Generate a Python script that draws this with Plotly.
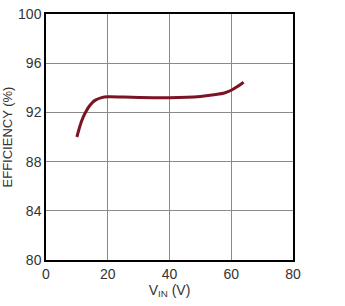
import plotly.graph_objects as go

vin = [10, 11, 12, 13, 14, 15, 16, 18, 20, 25, 30, 40, 50, 55, 58, 60, 62, 64]
eff = [90.0, 90.9, 91.6, 92.1, 92.5, 92.8, 93.0, 93.2, 93.27, 93.25, 93.22, 93.2, 93.3, 93.45, 93.6, 93.8, 94.1, 94.45]
xticks = [0, 20, 40, 60, 80]
yticks = [80, 84, 88, 92, 96, 100]

font = dict(family="Liberation Sans, Arial", size=14, color="#333")
fig = go.Figure()
fig.add_trace(go.Scatter(x=vin, y=eff, mode="lines",
                         line=dict(color="#7b1424", width=3, shape="spline", smoothing=0.8),
                         showlegend=False))
axis_common = dict(showgrid=True, gridcolor="#8a8a8a", gridwidth=1, showline=True, linecolor="black",
                   linewidth=1.5, mirror=True, ticks="", zeroline=False, automargin=False,
                   tickfont=font)
fig.update_xaxes(range=[0, 80], tickvals=xticks,
                 title=dict(text="V<sub>IN</sub> (V)", standoff=4, font=font), **axis_common)
fig.update_yaxes(range=[80, 100], tickvals=yticks,
                 title=dict(text="EFFICIENCY (%)", standoff=6, font=dict(family="Liberation Sans, Arial", size=13, color="#333")),
                 **axis_common)
fig.update_layout(width=345, height=306, margin=dict(l=46, r=52, t=14, b=46),
                  plot_bgcolor="white", paper_bgcolor="white")
fig.write_html("out.html")
